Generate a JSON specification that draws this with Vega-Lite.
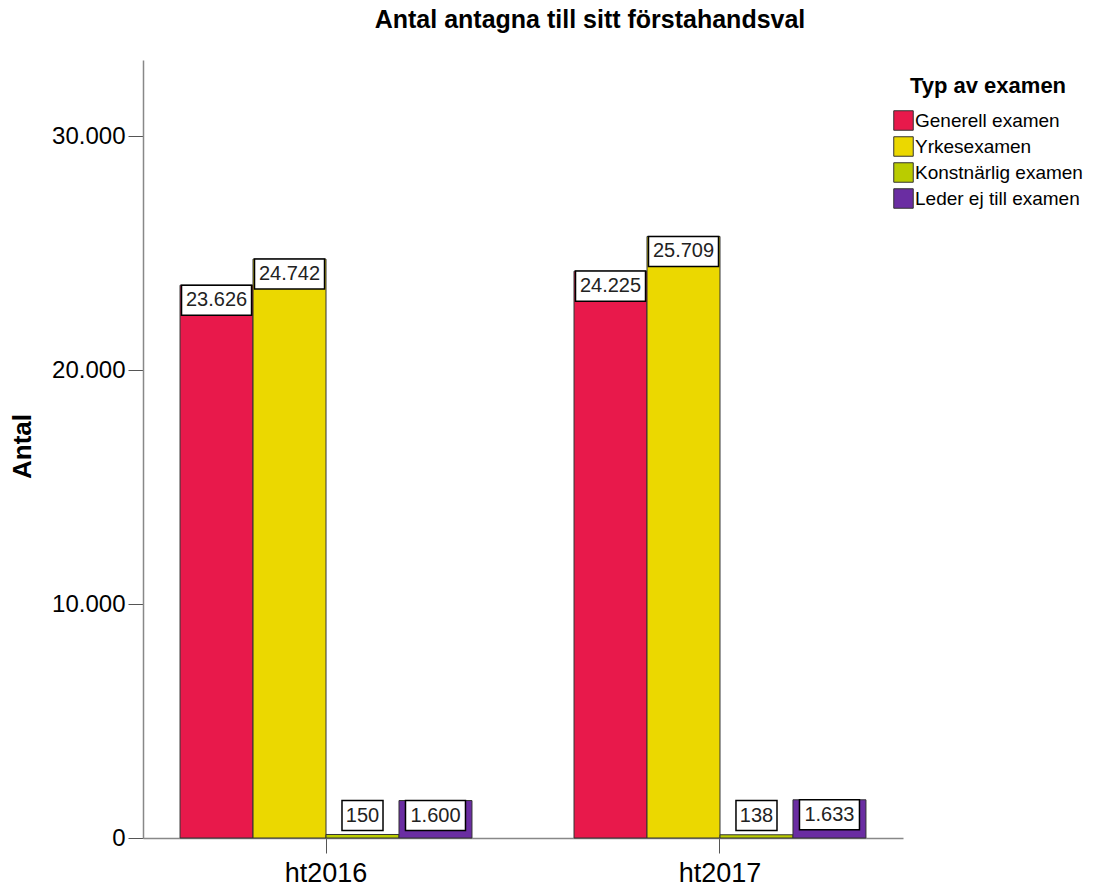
{
  "$schema": "https://vega.github.io/schema/vega-lite/v6.json",
  "width": 760,
  "height": 778,
  "autosize": "none",
  "padding": {"left": 143, "top": 60, "right": 199, "bottom": 50},
  "background": "white",
  "config": {"view": {"stroke": null}},
  "title": {
    "text": "Antal antagna till sitt förstahandsval",
    "fontSize": 25,
    "font": "Liberation Sans",
    "fontWeight": "bold",
    "color": "black",
    "anchor": "middle",
    "dx": 67,
    "offset": 27
  },
  "data": {
    "values": [
      {"year": "ht2016", "typ": "Generell examen", "value": 23626},
      {"year": "ht2016", "typ": "Yrkesexamen", "value": 24742},
      {"year": "ht2016", "typ": "Konstnärlig examen", "value": 150},
      {"year": "ht2016", "typ": "Leder ej till examen", "value": 1600},
      {"year": "ht2017", "typ": "Generell examen", "value": 24225},
      {"year": "ht2017", "typ": "Yrkesexamen", "value": 25709},
      {"year": "ht2017", "typ": "Konstnärlig examen", "value": 138},
      {"year": "ht2017", "typ": "Leder ej till examen", "value": 1633}
    ]
  },
  "transform": [
    {"calculate": "replace(format(datum.value, ','), ',', '.')", "as": "label"},
    {"calculate": "length(datum.label)", "as": "nchar"},
    {"calculate": "max(datum.value, 1600)", "as": "labelpos"}
  ],
  "encoding": {
    "x": {
      "field": "year",
      "type": "nominal",
      "scale": {"paddingInner": 0.259, "paddingOuter": 0.094},
      "axis": {
        "title": null,
        "labelAngle": 0,
        "labelFontSize": 27,
        "labelFont": "Liberation Sans",
        "labelColor": "black",
        "labelPadding": 7,
        "tickSize": 15,
        "tickColor": "#555",
        "domainColor": "#888",
        "domainWidth": 1.5
      }
    },
    "xOffset": {
      "field": "typ",
      "type": "nominal",
      "sort": ["Generell examen", "Yrkesexamen", "Konstnärlig examen", "Leder ej till examen"],
      "scale": {"paddingInner": 0, "paddingOuter": 0}
    }
  },
  "layer": [
    {
      "mark": {"type": "bar", "stroke": "#333", "strokeWidth": 1},
      "encoding": {
        "y": {
          "field": "value",
          "type": "quantitative",
          "scale": {"domain": [0, 33250], "nice": false},
          "axis": {
            "title": "Antal",
            "titleFontSize": 26,
            "titleFont": "Liberation Sans",
            "titleFontWeight": "bold",
            "titleColor": "black",
            "titleX": -121,
            "titleY": 386,
            "titleAngle": -90,
            "titleAlign": "center",
            "titleBaseline": "middle",
            "values": [0, 10000, 20000, 30000],
            "labelExpr": "replace(format(datum.value, ','), ',', '.')",
            "labelFontSize": 24,
            "labelFont": "Liberation Sans",
            "labelColor": "black",
            "labelPadding": 3,
            "tickSize": 15,
            "tickColor": "#555",
            "domainColor": "#888",
            "domainWidth": 1.5,
            "grid": false
          }
        },
        "color": {
          "field": "typ",
          "type": "nominal",
          "sort": ["Generell examen", "Yrkesexamen", "Konstnärlig examen", "Leder ej till examen"],
          "scale": {
            "domain": ["Generell examen", "Yrkesexamen", "Konstnärlig examen", "Leder ej till examen"],
            "range": ["#E8194B", "#EBD800", "#BACC00", "#6A2DA2"]
          },
          "legend": {
            "title": "Typ av examen",
            "orient": "none",
            "legendX": 750,
            "legendY": 16,
            "titleFontSize": 22,
            "titleFont": "Liberation Sans",
            "titleFontWeight": "bold",
            "titleColor": "black",
            "titlePadding": 12,
            "titleAnchor": "middle",
            "titleLimit": 400,
            "labelFontSize": 19,
            "labelFont": "Liberation Sans",
            "labelColor": "black",
            "labelOffset": 1,
            "labelLimit": 400,
            "symbolType": "square",
            "symbolSize": 380,
            "symbolStrokeColor": "#333",
            "symbolStrokeWidth": 1,
            "symbolOpacity": 1,
            "rowPadding": 1
          }
        }
      }
    },
    {
      "mark": {"type": "point", "filled": true, "fill": "white", "stroke": "black", "strokeWidth": 1.5, "opacity": 1, "size": 4900, "yOffset": 15},
      "encoding": {
        "y": {"field": "labelpos", "type": "quantitative"},
        "shape": {
          "field": "nchar",
          "type": "nominal",
          "scale": {
            "domain": [3, 5, 6],
            "range": ["M-0.586,-0.43H0.586V0.43H-0.586Z", "M-0.857,-0.43H0.857V0.43H-0.857Z", "M-1,-0.43H1V0.43H-1Z"]
          },
          "legend": null
        }
      }
    },
    {
      "mark": {"type": "text", "fontSize": 20, "font": "Liberation Sans", "color": "#222", "baseline": "middle", "dy": 15},
      "encoding": {
        "y": {"field": "labelpos", "type": "quantitative"},
        "text": {"field": "label"}
      }
    }
  ]
}
